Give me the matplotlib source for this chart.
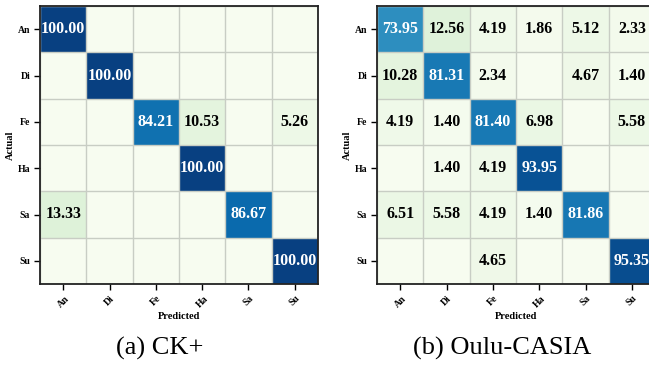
import numpy as np
import matplotlib
matplotlib.use("Agg")
import matplotlib.pyplot as plt

plt.rcParams['font.family'] = ['Liberation Serif', 'DejaVu Serif']

classes = ["An", "Di", "Fe", "Ha", "Sa", "Su"]

ck_plus = [
    [100.00, 0, 0, 0, 0, 0],
    [0, 100.00, 0, 0, 0, 0],
    [0, 0, 84.21, 10.53, 0, 5.26],
    [0, 0, 0, 100.00, 0, 0],
    [13.33, 0, 0, 0, 86.67, 0],
    [0, 0, 0, 0, 0, 100.00],
]

oulu_casia = [
    [73.95, 12.56, 4.19, 1.86, 5.12, 2.33],
    [10.28, 81.31, 2.34, 0, 4.67, 1.40],
    [4.19, 1.40, 81.40, 6.98, 0, 5.58],
    [0, 1.40, 4.19, 93.95, 0, 0],
    [6.51, 5.58, 4.19, 1.40, 81.86, 0],
    [0, 0, 4.65, 0, 0, 95.35],
]

captions = ["(a) CK+", "(b) Oulu-CASIA"]

W, H = 649, 368
fig = plt.figure(figsize=(W / 100, H / 100), dpi=100)

def px_axes(x0, y0, w, h):
    return fig.add_axes([x0 / W, (H - y0 - h) / H, w / W, h / H])

def draw(ax, mat):
    m = np.array(mat, dtype=float)
    ax.imshow(m, cmap="GnBu", vmin=0, vmax=100, aspect="auto")
    n = len(classes)
    for i in range(n):
        for j in range(n):
            v = m[i, j]
            if v > 0:
                ax.text(j, i, f"{v:.2f}", ha="center", va="center",
                        fontsize=11.5, fontweight="bold",
                        color="white" if v > 50 else "black")
    ax.set_xticks(range(n))
    ax.set_yticks(range(n))
    ax.set_xticklabels(classes, rotation=45, fontsize=7, fontweight="bold")
    ax.set_yticklabels(classes, fontsize=7, fontweight="bold")
    ax.set_xticks(np.arange(-0.5, n, 1), minor=True)
    ax.set_yticks(np.arange(-0.5, n, 1), minor=True)
    ax.grid(which="minor", color="#c8cdc4", linewidth=1)
    ax.tick_params(which="minor", length=0)
    ax.tick_params(which="major", length=4, width=1, pad=3)
    for s in ax.spines.values():
        s.set_color("#222222")
        s.set_linewidth(1.3)
    ax.set_xlabel("Predicted", fontsize=7.5, fontweight="bold", labelpad=2)
    ax.set_ylabel("Actual", fontsize=7.5, fontweight="bold", labelpad=2)

ax1 = px_axes(40, 6, 278, 278)
draw(ax1, ck_plus)
ax2 = px_axes(377, 6, 278, 278)
draw(ax2, oulu_casia)

fig.text(160 / W, 1 - 348 / H, captions[0], ha="center", va="center", fontsize=19)
fig.text(502 / W, 1 - 348 / H, captions[1], ha="center", va="center", fontsize=19)

fig.savefig("out.png", dpi=100)
